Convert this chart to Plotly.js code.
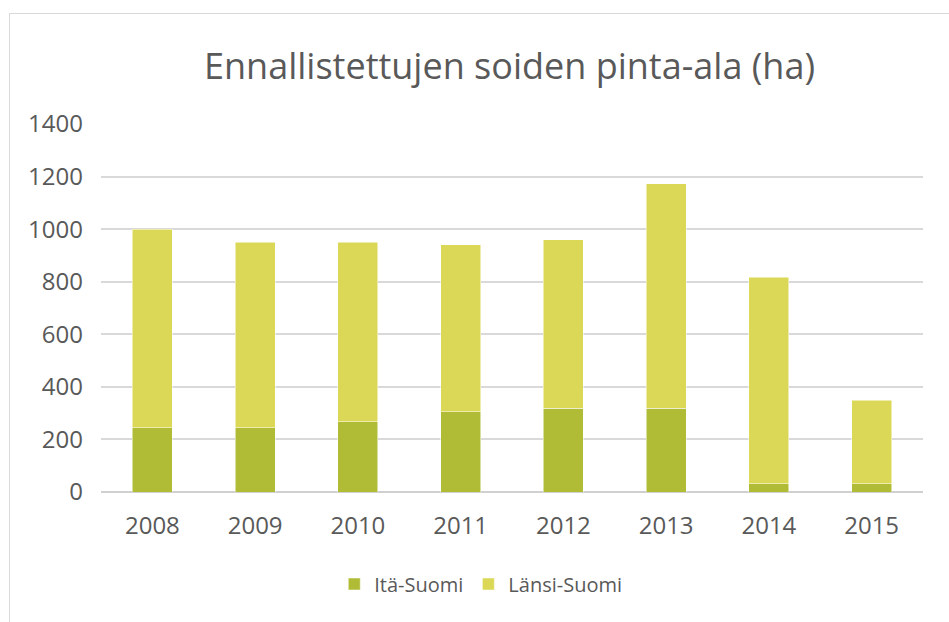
<!DOCTYPE html>
<html>
<head>
<meta charset="utf-8">
<script src="https://cdn.plot.ly/plotly-3.0.1.min.js"></script>
<style>
html,body{margin:0;padding:0;background:#fff;overflow:hidden;}
#frame{position:absolute;left:9px;top:13px;width:940px;height:609px;border-left:1px solid #d9d9d9;border-top:1px solid #d9d9d9;}
#chart{width:940px;height:609px;}
</style>
</head>
<body>
<div id="frame"><div id="chart"></div></div>
<script>
const years = ['2008','2009','2010','2011','2012','2013','2014','2015'];
const itaSuomi = [245, 245, 267, 306, 318, 318, 32, 32];
const lansiSuomi = [755, 705, 683, 634, 642, 855, 785, 318];
const yTicks = [0, 200, 400, 600, 800, 1000, 1200, 1400];

const FONT = 'Open Sans, sans-serif';
const TXT = '#595959';

const traces = [
  {type:'bar', name:'Itä-Suomi', x:years, y:itaSuomi,
   marker:{color:'#B0BC36', line:{color:'#ffffff', width:0.5}}},
  {type:'bar', name:'Länsi-Suomi', x:years, y:lansiSuomi,
   marker:{color:'#DBD857', line:{color:'#ffffff', width:0.5}}}
];

const layout = {
  width:940, height:609,
  margin:{l:91, r:27, t:110, b:131},
  paper_bgcolor:'#ffffff', plot_bgcolor:'#ffffff',
  barmode:'stack', bargap:0.61,
  font:{family:FONT, color:TXT, size:21},
  title:{text:'Ennallistettujen soiden pinta-ala (ha)', font:{family:FONT, size:36, color:TXT},
         x:0.497, xref:'paper', xanchor:'center', y:0.914, yref:'container', yanchor:'middle'},
  xaxis:{type:'category', showgrid:false, showline:false, zeroline:false, ticks:'',
         ticklabelstandoff:17, tickfont:{family:FONT, size:24, color:TXT}},
  yaxis:{range:[0,1400], tickvals:yTicks, ticktext:yTicks.map(String),
         showgrid:true, gridcolor:'#d9d9d9', gridwidth:2,
         zeroline:true, zerolinecolor:'#d0d0d0', zerolinewidth:2,
         showline:false, ticks:'', ticklabelstandoff:17,
         tickfont:{family:FONT, size:24, color:TXT}},
  showlegend:true,
  legend:{orientation:'h', x:0.462, xanchor:'center', y:-0.25, yanchor:'middle',
          font:{family:FONT, size:20, color:TXT}, traceorder:'normal', itemwidth:30},
  hovermode:false
};

Plotly.newPlot('chart', traces, layout, {staticPlot:true, displayModeBar:false});
</script>
</body>
</html>
